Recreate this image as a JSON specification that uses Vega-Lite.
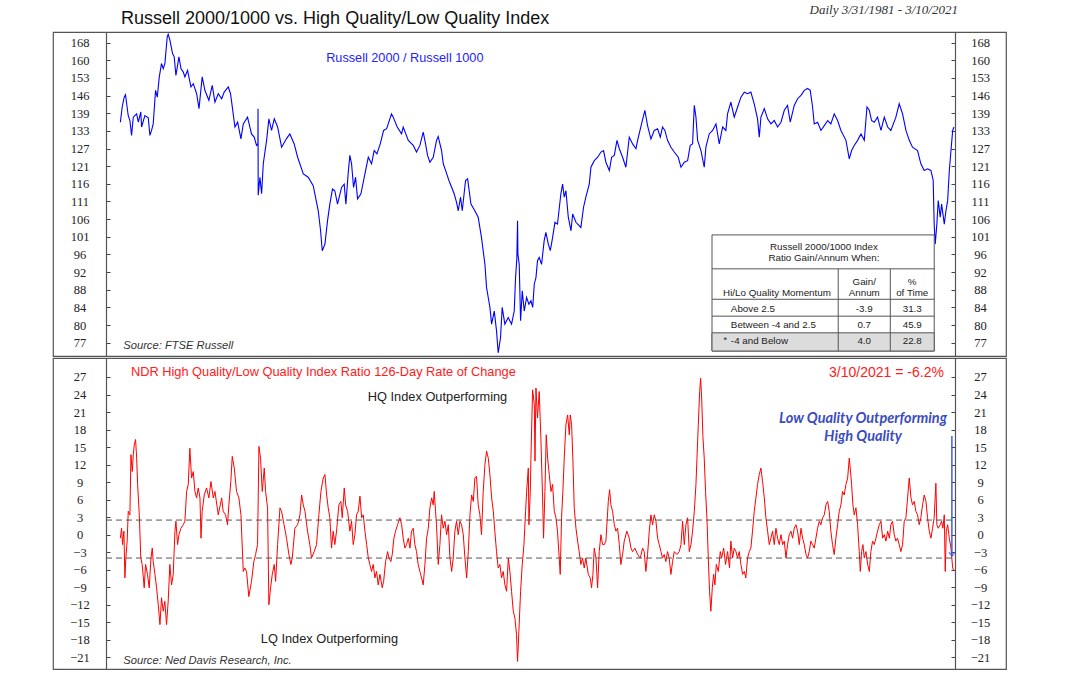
{
"$schema":"https://vega.github.io/schema/vega-lite/v6.json",
"padding":{"left":52,"top":2,"right":0,"bottom":0},
"spacing":0,
"background":"white",
"config":{"font":"Liberation Sans","view":{"stroke":"#555","strokeWidth":1.2},"axis":{"grid":false,"labelFont":"Liberation Serif","labelFontSize":12.5,"labelColor":"#222","tickColor":"#444","domainColor":"#555","domainWidth":1.2}},
"title":{"text":"Daily 3/31/1981 - 3/10/2021","anchor":"end","frame":"group","offset":-15,"dx":-48,"font":"Liberation Serif","fontStyle":"italic","fontSize":13,"fontWeight":"normal","color":"#333"},
"datasets":{
"r":[
{"d":"1981-03-31","v":136.6},{"d":"1981-05-02","v":142.1},{"d":"1981-06-06","v":145.8},{"d":"1981-06-29","v":146.7},{"d":"1981-08-15","v":139.0},{"d":"1981-09-14","v":137.2},{"d":"1981-10-13","v":132.0},{"d":"1981-11-12","v":138.4},{"d":"1982-01-10","v":139.6},{"d":"1982-02-08","v":136.6},{"d":"1982-03-24","v":140.3},{"d":"1982-04-06","v":134.9},{"d":"1982-06-03","v":139.0},{"d":"1982-08-01","v":138.2},{"d":"1982-08-30","v":132.0},{"d":"1982-09-28","v":133.7},{"d":"1982-10-27","v":136.0},{"d":"1982-12-07","v":148.4},{"d":"1983-01-06","v":145.8},{"d":"1983-02-10","v":153.7},{"d":"1983-03-21","v":159.1},{"d":"1983-04-20","v":157.0},{"d":"1983-05-19","v":159.1},{"d":"1983-06-29","v":170.5},{"d":"1983-07-16","v":171.7},{"d":"1983-08-15","v":169.1},{"d":"1983-09-30","v":163.3},{"d":"1983-10-29","v":161.9},{"d":"1983-11-28","v":154.3},{"d":"1984-01-20","v":161.9},{"d":"1984-02-24","v":157.0},{"d":"1984-04-05","v":155.6},{"d":"1984-05-03","v":153.7},{"d":"1984-06-19","v":156.3},{"d":"1984-08-17","v":149.7},{"d":"1984-09-27","v":151.0},{"d":"1984-11-25","v":147.1},{"d":"1985-01-05","v":141.5},{"d":"1985-03-02","v":153.7},{"d":"1985-04-18","v":148.4},{"d":"1985-06-27","v":144.6},{"d":"1985-08-25","v":150.3},{"d":"1985-10-11","v":143.9},{"d":"1985-12-08","v":147.1},{"d":"1986-02-06","v":145.2},{"d":"1986-03-22","v":147.7},{"d":"1986-06-01","v":149.7},{"d":"1986-07-11","v":147.1},{"d":"1986-09-26","v":134.9},{"d":"1986-11-12","v":136.6},{"d":"1987-01-09","v":130.8},{"d":"1987-02-19","v":136.0},{"d":"1987-05-04","v":138.4},{"d":"1987-07-13","v":132.5},{"d":"1987-08-29","v":131.4},{"d":"1987-10-09","v":128.6},{"d":"1987-11-02","v":129.1},{"d":"1987-11-04","v":141.5},{"d":"1987-11-07","v":113.0},{"d":"1987-12-07","v":118.4},{"d":"1988-01-06","v":113.4},{"d":"1988-02-04","v":122.6},{"d":"1988-04-02","v":130.3},{"d":"1988-05-12","v":137.8},{"d":"1988-06-28","v":133.7},{"d":"1988-08-14","v":137.8},{"d":"1988-10-12","v":134.9},{"d":"1988-12-21","v":128.0},{"d":"1989-03-17","v":130.9},{"d":"1989-05-14","v":132.5},{"d":"1989-07-29","v":129.1},{"d":"1989-09-27","v":124.7},{"d":"1990-01-05","v":119.4},{"d":"1990-03-31","v":118.4},{"d":"1990-06-27","v":115.8},{"d":"1990-09-23","v":108.5},{"d":"1990-11-03","v":103.0},{"d":"1990-12-02","v":97.8},{"d":"1990-12-25","v":98.6},{"d":"1991-01-18","v":99.5},{"d":"1991-03-04","v":105.7},{"d":"1991-04-14","v":110.4},{"d":"1991-05-30","v":114.8},{"d":"1991-07-10","v":114.3},{"d":"1991-08-26","v":110.4},{"d":"1991-11-05","v":115.3},{"d":"1991-12-21","v":116.3},{"d":"1992-01-20","v":110.4},{"d":"1992-02-28","v":119.4},{"d":"1992-03-29","v":125.3},{"d":"1992-04-28","v":122.6},{"d":"1992-06-02","v":115.3},{"d":"1992-07-07","v":118.4},{"d":"1992-08-11","v":111.9},{"d":"1992-10-09","v":113.4},{"d":"1992-12-30","v":120.5},{"d":"1993-02-15","v":124.7},{"d":"1993-04-13","v":122.6},{"d":"1993-05-29","v":126.9},{"d":"1993-07-15","v":125.8},{"d":"1993-09-12","v":129.1},{"d":"1993-11-10","v":133.7},{"d":"1994-01-02","v":134.3},{"d":"1994-03-28","v":139.6},{"d":"1994-04-27","v":138.4},{"d":"1994-07-06","v":134.9},{"d":"1994-09-20","v":132.5},{"d":"1994-10-19","v":134.9},{"d":"1995-01-16","v":130.3},{"d":"1995-04-12","v":128.6},{"d":"1995-06-09","v":126.4},{"d":"1995-08-07","v":128.6},{"d":"1995-10-04","v":133.1},{"d":"1995-11-14","v":129.1},{"d":"1995-12-19","v":125.3},{"d":"1996-01-29","v":123.1},{"d":"1996-03-27","v":124.7},{"d":"1996-05-24","v":130.3},{"d":"1996-06-22","v":131.6},{"d":"1996-08-20","v":126.9},{"d":"1996-09-19","v":122.6},{"d":"1996-10-29","v":120.5},{"d":"1996-12-27","v":117.4},{"d":"1997-03-29","v":113.4},{"d":"1997-05-09","v":110.9},{"d":"1997-06-08","v":108.5},{"d":"1997-07-18","v":112.4},{"d":"1997-08-17","v":108.5},{"d":"1997-10-14","v":117.4},{"d":"1997-11-19","v":117.9},{"d":"1998-01-16","v":110.4},{"d":"1998-03-25","v":108.5},{"d":"1998-05-23","v":106.7},{"d":"1998-07-20","v":101.2},{"d":"1998-09-18","v":94.4},{"d":"1998-10-16","v":88.9},{"d":"1998-11-15","v":86.6},{"d":"1998-12-14","v":84.4},{"d":"1999-01-13","v":80.8},{"d":"1999-02-28","v":83.6},{"d":"1999-04-09","v":79.4},{"d":"1999-05-08","v":75.0},{"d":"1999-06-18","v":78.0},{"d":"1999-07-17","v":84.4},{"d":"1999-09-02","v":80.8},{"d":"1999-10-30","v":82.2},{"d":"1999-12-28","v":80.8},{"d":"2000-02-13","v":83.6},{"d":"2000-03-07","v":91.2},{"d":"2000-03-30","v":96.0},{"d":"2000-04-11","v":105.7},{"d":"2000-04-17","v":97.0},{"d":"2000-05-10","v":94.4},{"d":"2000-06-03","v":81.5},{"d":"2000-07-02","v":88.1},{"d":"2000-08-06","v":83.6},{"d":"2000-09-16","v":86.6},{"d":"2000-10-27","v":85.1},{"d":"2000-12-01","v":85.9},{"d":"2001-01-01","v":84.4},{"d":"2001-01-29","v":89.7},{"d":"2001-02-27","v":91.2},{"d":"2001-03-26","v":95.3},{"d":"2001-04-25","v":96.1},{"d":"2001-06-05","v":94.4},{"d":"2001-07-21","v":100.4},{"d":"2001-08-20","v":102.6},{"d":"2001-10-01","v":99.5},{"d":"2001-11-05","v":97.8},{"d":"2001-12-15","v":101.2},{"d":"2002-01-25","v":105.3},{"d":"2002-03-11","v":104.8},{"d":"2002-05-09","v":113.4},{"d":"2002-06-08","v":116.3},{"d":"2002-07-07","v":112.4},{"d":"2002-08-05","v":114.3},{"d":"2002-09-16","v":106.7},{"d":"2002-11-02","v":103.0},{"d":"2002-12-01","v":107.6},{"d":"2003-01-28","v":105.3},{"d":"2003-04-24","v":103.9},{"d":"2003-06-10","v":109.5},{"d":"2003-07-20","v":112.4},{"d":"2003-09-18","v":116.3},{"d":"2003-10-17","v":121.5},{"d":"2003-12-14","v":123.6},{"d":"2004-02-12","v":124.7},{"d":"2004-04-09","v":126.4},{"d":"2004-05-25","v":126.9},{"d":"2004-07-05","v":123.1},{"d":"2004-09-03","v":120.5},{"d":"2004-10-13","v":124.7},{"d":"2004-11-29","v":125.3},{"d":"2005-01-15","v":130.3},{"d":"2005-02-25","v":127.5},{"d":"2005-04-23","v":124.7},{"d":"2005-06-20","v":121.5},{"d":"2005-08-18","v":131.4},{"d":"2005-10-15","v":129.1},{"d":"2005-12-13","v":127.5},{"d":"2006-01-11","v":130.3},{"d":"2006-03-21","v":136.0},{"d":"2006-05-18","v":140.9},{"d":"2006-07-04","v":135.4},{"d":"2006-09-01","v":130.8},{"d":"2006-10-29","v":133.7},{"d":"2006-12-27","v":134.3},{"d":"2007-02-12","v":131.4},{"d":"2007-03-23","v":134.9},{"d":"2007-05-03","v":133.7},{"d":"2007-06-19","v":130.3},{"d":"2007-08-17","v":128.0},{"d":"2007-10-14","v":126.4},{"d":"2007-12-23","v":124.7},{"d":"2008-02-09","v":121.5},{"d":"2008-04-07","v":123.1},{"d":"2008-06-04","v":123.6},{"d":"2008-07-20","v":128.6},{"d":"2008-08-30","v":129.1},{"d":"2008-09-29","v":142.7},{"d":"2008-10-28","v":138.4},{"d":"2008-11-26","v":130.3},{"d":"2009-01-24","v":126.9},{"d":"2009-03-22","v":121.5},{"d":"2009-04-20","v":128.0},{"d":"2009-06-17","v":132.5},{"d":"2009-08-15","v":133.7},{"d":"2009-10-13","v":136.0},{"d":"2009-12-10","v":129.1},{"d":"2010-02-07","v":134.9},{"d":"2010-04-05","v":133.7},{"d":"2010-05-04","v":139.6},{"d":"2010-07-01","v":143.9},{"d":"2010-08-29","v":138.4},{"d":"2010-10-27","v":142.1},{"d":"2010-12-24","v":145.8},{"d":"2011-02-21","v":147.7},{"d":"2011-04-19","v":147.1},{"d":"2011-06-16","v":147.7},{"d":"2011-08-14","v":143.3},{"d":"2011-10-11","v":137.8},{"d":"2011-11-10","v":131.4},{"d":"2011-12-09","v":138.4},{"d":"2012-02-06","v":141.5},{"d":"2012-04-04","v":137.8},{"d":"2012-06-01","v":136.0},{"d":"2012-07-29","v":137.2},{"d":"2012-09-26","v":134.9},{"d":"2012-11-24","v":136.6},{"d":"2013-01-21","v":140.9},{"d":"2013-03-19","v":142.7},{"d":"2013-05-05","v":136.6},{"d":"2013-07-14","v":142.7},{"d":"2013-09-11","v":145.2},{"d":"2013-11-09","v":146.5},{"d":"2014-01-06","v":148.4},{"d":"2014-03-04","v":149.1},{"d":"2014-04-20","v":148.4},{"d":"2014-05-31","v":142.1},{"d":"2014-06-29","v":136.0},{"d":"2014-08-27","v":136.6},{"d":"2014-10-24","v":133.7},{"d":"2014-12-22","v":135.4},{"d":"2015-02-19","v":137.2},{"d":"2015-04-16","v":136.0},{"d":"2015-06-14","v":139.6},{"d":"2015-08-12","v":137.2},{"d":"2015-10-09","v":133.7},{"d":"2016-01-05","v":130.3},{"d":"2016-03-03","v":124.2},{"d":"2016-04-13","v":126.9},{"d":"2016-05-29","v":128.6},{"d":"2016-07-27","v":130.3},{"d":"2016-09-24","v":132.5},{"d":"2016-11-21","v":130.3},{"d":"2017-01-07","v":142.1},{"d":"2017-02-17","v":140.9},{"d":"2017-03-28","v":137.2},{"d":"2017-05-14","v":136.6},{"d":"2017-07-11","v":138.4},{"d":"2017-09-09","v":133.7},{"d":"2017-11-06","v":138.4},{"d":"2018-01-04","v":134.9},{"d":"2018-03-01","v":133.7},{"d":"2018-05-28","v":138.4},{"d":"2018-07-25","v":143.3},{"d":"2018-09-22","v":139.6},{"d":"2018-11-20","v":133.7},{"d":"2019-01-17","v":130.3},{"d":"2019-03-15","v":128.0},{"d":"2019-06-11","v":126.9},{"d":"2019-08-08","v":122.6},{"d":"2019-10-06","v":120.5},{"d":"2019-12-03","v":121.0},{"d":"2020-01-31","v":120.5},{"d":"2020-03-11","v":117.4},{"d":"2020-03-28","v":104.8},{"d":"2020-04-15","v":99.5},{"d":"2020-05-14","v":104.8},{"d":"2020-06-07","v":111.4},{"d":"2020-07-12","v":106.7},{"d":"2020-08-05","v":110.4},{"d":"2020-09-21","v":104.8},{"d":"2020-10-20","v":108.5},{"d":"2020-11-19","v":111.4},{"d":"2020-12-18","v":120.5},{"d":"2021-01-16","v":126.9},{"d":"2021-02-15","v":133.7},{"d":"2021-03-10","v":134.9}
],
"q":[
{"d":"1981-03-31","v":-0.6},{"d":"1981-04-21","v":1.1},{"d":"1981-05-08","v":-1.7},{"d":"1981-06-01","v":0.6},{"d":"1981-06-18","v":-7.4},{"d":"1981-07-05","v":-4.0},{"d":"1981-07-28","v":-1.1},{"d":"1981-08-16","v":4.0},{"d":"1981-09-14","v":3.4},{"d":"1981-10-02","v":13.7},{"d":"1981-10-25","v":10.8},{"d":"1981-11-12","v":13.7},{"d":"1981-11-29","v":15.4},{"d":"1981-12-22","v":16.3},{"d":"1982-01-10","v":13.1},{"d":"1982-01-27","v":8.6},{"d":"1982-02-25","v":3.4},{"d":"1982-03-24","v":-4.0},{"d":"1982-04-17","v":-5.1},{"d":"1982-05-22","v":-9.1},{"d":"1982-06-15","v":-5.1},{"d":"1982-07-19","v":-6.8},{"d":"1982-08-18","v":-9.1},{"d":"1982-09-17","v":-4.0},{"d":"1982-10-10","v":-2.3},{"d":"1982-10-27","v":-4.6},{"d":"1982-11-26","v":-6.8},{"d":"1982-12-25","v":-9.1},{"d":"1983-01-23","v":-12.0},{"d":"1983-02-22","v":-15.4},{"d":"1983-03-21","v":-10.8},{"d":"1983-04-20","v":-13.1},{"d":"1983-05-18","v":-11.4},{"d":"1983-06-17","v":-15.4},{"d":"1983-07-16","v":-11.4},{"d":"1983-08-14","v":-5.1},{"d":"1983-09-13","v":-8.6},{"d":"1983-10-12","v":-6.8},{"d":"1983-11-11","v":0.6},{"d":"1983-11-28","v":2.3},{"d":"1983-12-27","v":-1.7},{"d":"1984-01-20","v":0.0},{"d":"1984-02-24","v":1.1},{"d":"1984-04-04","v":1.7},{"d":"1984-05-03","v":2.3},{"d":"1984-06-02","v":7.4},{"d":"1984-07-01","v":8.6},{"d":"1984-07-29","v":14.8},{"d":"1984-08-28","v":9.7},{"d":"1984-09-27","v":10.8},{"d":"1984-10-26","v":7.4},{"d":"1984-11-24","v":6.3},{"d":"1984-12-23","v":8.0},{"d":"1985-01-22","v":6.3},{"d":"1985-02-09","v":-0.6},{"d":"1985-03-02","v":4.0},{"d":"1985-04-07","v":6.8},{"d":"1985-05-17","v":8.0},{"d":"1985-06-27","v":6.3},{"d":"1985-08-02","v":9.1},{"d":"1985-09-12","v":6.3},{"d":"1985-10-11","v":7.4},{"d":"1985-12-08","v":3.4},{"d":"1986-02-06","v":6.3},{"d":"1986-03-04","v":4.0},{"d":"1986-04-15","v":3.4},{"d":"1986-05-19","v":1.7},{"d":"1986-06-12","v":5.1},{"d":"1986-07-16","v":9.1},{"d":"1986-08-10","v":13.4},{"d":"1986-09-14","v":11.4},{"d":"1986-10-24","v":7.4},{"d":"1986-12-04","v":6.3},{"d":"1987-01-09","v":3.4},{"d":"1987-02-19","v":-6.3},{"d":"1987-03-18","v":-5.7},{"d":"1987-04-17","v":-6.3},{"d":"1987-05-27","v":-10.6},{"d":"1987-07-13","v":-8.0},{"d":"1987-08-23","v":-4.6},{"d":"1987-09-22","v":-3.4},{"d":"1987-10-27","v":-1.7},{"d":"1987-11-20","v":15.1},{"d":"1987-12-18","v":13.1},{"d":"1988-01-17","v":7.4},{"d":"1988-02-21","v":11.4},{"d":"1988-03-15","v":7.4},{"d":"1988-04-19","v":4.6},{"d":"1988-05-12","v":-12.0},{"d":"1988-06-11","v":-9.1},{"d":"1988-07-10","v":-6.8},{"d":"1988-08-14","v":-5.1},{"d":"1988-09-07","v":-8.0},{"d":"1988-10-12","v":-1.7},{"d":"1988-11-22","v":4.6},{"d":"1988-12-21","v":4.0},{"d":"1989-02-01","v":1.7},{"d":"1989-03-17","v":-0.6},{"d":"1989-04-27","v":-3.4},{"d":"1989-06-01","v":-5.1},{"d":"1989-06-25","v":-4.0},{"d":"1989-08-10","v":1.1},{"d":"1989-09-27","v":1.7},{"d":"1989-11-07","v":3.4},{"d":"1989-12-06","v":6.8},{"d":"1990-01-04","v":5.1},{"d":"1990-02-03","v":4.0},{"d":"1990-03-19","v":0.6},{"d":"1990-04-29","v":-1.7},{"d":"1990-05-28","v":-4.0},{"d":"1990-07-14","v":-2.9},{"d":"1990-08-24","v":-1.7},{"d":"1990-10-04","v":3.4},{"d":"1990-11-09","v":7.4},{"d":"1990-12-19","v":9.7},{"d":"1991-01-18","v":10.3},{"d":"1991-02-17","v":6.8},{"d":"1991-03-16","v":4.6},{"d":"1991-04-14","v":2.9},{"d":"1991-05-13","v":-2.3},{"d":"1991-06-12","v":0.6},{"d":"1991-07-10","v":-1.7},{"d":"1991-08-09","v":0.6},{"d":"1991-09-19","v":5.1},{"d":"1991-10-24","v":5.7},{"d":"1991-11-17","v":2.9},{"d":"1991-12-22","v":8.0},{"d":"1992-01-15","v":5.1},{"d":"1992-02-19","v":4.0},{"d":"1992-03-29","v":0.6},{"d":"1992-04-28","v":2.3},{"d":"1992-05-27","v":-1.7},{"d":"1992-06-25","v":0.0},{"d":"1992-07-24","v":3.4},{"d":"1992-08-23","v":4.0},{"d":"1992-09-22","v":6.6},{"d":"1992-10-21","v":2.9},{"d":"1992-11-19","v":3.4},{"d":"1992-12-18","v":0.6},{"d":"1993-01-17","v":-1.7},{"d":"1993-02-15","v":-4.0},{"d":"1993-03-14","v":-5.1},{"d":"1993-04-13","v":-6.3},{"d":"1993-05-12","v":-5.1},{"d":"1993-06-10","v":-7.4},{"d":"1993-07-09","v":-6.3},{"d":"1993-08-08","v":-8.6},{"d":"1993-09-07","v":-6.8},{"d":"1993-10-17","v":-9.1},{"d":"1993-11-10","v":-8.0},{"d":"1993-12-15","v":-4.6},{"d":"1994-01-19","v":-2.9},{"d":"1994-02-12","v":-4.0},{"d":"1994-03-17","v":-4.6},{"d":"1994-04-10","v":-3.4},{"d":"1994-05-09","v":-0.6},{"d":"1994-06-07","v":0.6},{"d":"1994-07-12","v":1.7},{"d":"1994-08-22","v":2.9},{"d":"1994-09-21","v":1.7},{"d":"1994-10-19","v":-0.6},{"d":"1994-11-18","v":-2.3},{"d":"1994-12-17","v":-1.7},{"d":"1995-01-16","v":-0.6},{"d":"1995-02-14","v":-2.3},{"d":"1995-03-13","v":0.6},{"d":"1995-04-12","v":1.1},{"d":"1995-05-11","v":-1.7},{"d":"1995-06-09","v":-2.9},{"d":"1995-07-08","v":-5.1},{"d":"1995-08-07","v":-6.3},{"d":"1995-09-05","v":-7.4},{"d":"1995-10-04","v":-8.6},{"d":"1995-11-03","v":-5.1},{"d":"1995-12-02","v":-0.6},{"d":"1996-01-01","v":1.1},{"d":"1996-01-29","v":4.6},{"d":"1996-02-28","v":6.3},{"d":"1996-03-27","v":5.1},{"d":"1996-04-14","v":7.4},{"d":"1996-05-07","v":4.0},{"d":"1996-05-24","v":1.7},{"d":"1996-06-23","v":-5.1},{"d":"1996-07-22","v":-1.7},{"d":"1996-08-20","v":3.4},{"d":"1996-09-19","v":1.1},{"d":"1996-10-18","v":2.3},{"d":"1996-11-17","v":0.0},{"d":"1996-12-16","v":1.7},{"d":"1997-01-14","v":-4.0},{"d":"1997-02-13","v":-6.3},{"d":"1997-03-12","v":-4.0},{"d":"1997-04-10","v":0.6},{"d":"1997-05-09","v":2.3},{"d":"1997-06-08","v":0.0},{"d":"1997-07-07","v":2.3},{"d":"1997-08-05","v":1.7},{"d":"1997-09-04","v":0.0},{"d":"1997-10-03","v":-4.0},{"d":"1997-11-02","v":-7.4},{"d":"1997-12-01","v":-2.9},{"d":"1997-12-30","v":3.4},{"d":"1998-01-28","v":6.8},{"d":"1998-02-27","v":5.7},{"d":"1998-03-26","v":9.7},{"d":"1998-04-24","v":10.0},{"d":"1998-05-23","v":5.1},{"d":"1998-06-22","v":3.4},{"d":"1998-07-20","v":0.0},{"d":"1998-08-19","v":7.4},{"d":"1998-09-18","v":12.0},{"d":"1998-10-17","v":14.3},{"d":"1998-11-16","v":13.1},{"d":"1998-12-14","v":10.3},{"d":"1999-01-13","v":6.3},{"d":"1999-02-12","v":4.0},{"d":"1999-03-10","v":0.6},{"d":"1999-04-09","v":-2.9},{"d":"1999-05-08","v":-5.7},{"d":"1999-06-07","v":-5.1},{"d":"1999-07-05","v":-7.4},{"d":"1999-08-04","v":-6.3},{"d":"1999-09-03","v":-8.6},{"d":"1999-10-02","v":-9.7},{"d":"1999-11-01","v":-4.0},{"d":"1999-11-29","v":-6.3},{"d":"1999-12-28","v":-9.7},{"d":"2000-01-27","v":-13.1},{"d":"2000-02-25","v":-14.3},{"d":"2000-03-24","v":-17.1},{"d":"2000-04-11","v":-21.7},{"d":"2000-05-04","v":-16.6},{"d":"2000-06-03","v":-9.7},{"d":"2000-07-02","v":-5.1},{"d":"2000-08-01","v":-1.7},{"d":"2000-08-29","v":4.0},{"d":"2000-09-17","v":7.4},{"d":"2000-10-16","v":11.4},{"d":"2000-10-27","v":1.7},{"d":"2000-11-20","v":7.4},{"d":"2000-12-01","v":13.1},{"d":"2000-12-30","v":24.8},{"d":"2001-01-29","v":22.3},{"d":"2001-02-10","v":12.6},{"d":"2001-02-27","v":25.1},{"d":"2001-03-26","v":20.0},{"d":"2001-04-25","v":24.5},{"d":"2001-05-24","v":16.6},{"d":"2001-06-23","v":6.3},{"d":"2001-07-10","v":-0.6},{"d":"2001-08-03","v":7.4},{"d":"2001-08-26","v":17.1},{"d":"2001-09-19","v":13.1},{"d":"2001-10-18","v":10.3},{"d":"2001-11-17","v":7.4},{"d":"2001-12-15","v":8.6},{"d":"2002-01-14","v":4.0},{"d":"2002-02-12","v":2.9},{"d":"2002-03-11","v":0.6},{"d":"2002-04-10","v":-4.0},{"d":"2002-04-28","v":-6.8},{"d":"2002-05-21","v":2.9},{"d":"2002-06-13","v":7.4},{"d":"2002-07-07","v":13.1},{"d":"2002-08-05","v":18.8},{"d":"2002-09-04","v":20.5},{"d":"2002-10-03","v":17.1},{"d":"2002-10-20","v":20.5},{"d":"2002-11-13","v":18.8},{"d":"2002-12-06","v":12.6},{"d":"2002-12-29","v":4.6},{"d":"2003-01-28","v":1.1},{"d":"2003-02-26","v":-1.1},{"d":"2003-03-25","v":-2.9},{"d":"2003-04-24","v":-5.1},{"d":"2003-05-23","v":-4.0},{"d":"2003-06-22","v":-5.7},{"d":"2003-07-20","v":-4.0},{"d":"2003-09-01","v":-6.8},{"d":"2003-10-05","v":-7.4},{"d":"2003-10-28","v":-9.1},{"d":"2003-11-21","v":-6.8},{"d":"2003-12-14","v":-2.3},{"d":"2004-01-13","v":-4.0},{"d":"2004-02-11","v":-9.1},{"d":"2004-03-10","v":-2.9},{"d":"2004-04-09","v":0.0},{"d":"2004-05-08","v":-1.7},{"d":"2004-06-07","v":-1.7},{"d":"2004-07-05","v":-1.1},{"d":"2004-08-16","v":5.7},{"d":"2004-09-08","v":7.7},{"d":"2004-10-01","v":5.1},{"d":"2004-10-30","v":4.0},{"d":"2004-11-29","v":1.7},{"d":"2004-12-28","v":0.6},{"d":"2005-01-26","v":1.1},{"d":"2005-02-25","v":-1.7},{"d":"2005-03-24","v":-5.1},{"d":"2005-04-23","v":-3.4},{"d":"2005-05-22","v":-1.1},{"d":"2005-07-07","v":0.6},{"d":"2005-08-18","v":-0.6},{"d":"2005-09-16","v":-2.3},{"d":"2005-10-15","v":-2.9},{"d":"2005-11-25","v":-2.3},{"d":"2006-01-11","v":-3.4},{"d":"2006-02-27","v":-4.0},{"d":"2006-04-08","v":-2.3},{"d":"2006-05-06","v":-2.9},{"d":"2006-06-05","v":-6.3},{"d":"2006-07-04","v":-3.4},{"d":"2006-08-03","v":0.6},{"d":"2006-09-01","v":3.4},{"d":"2006-09-30","v":1.7},{"d":"2006-10-29","v":3.4},{"d":"2006-11-28","v":2.3},{"d":"2006-12-27","v":-0.6},{"d":"2007-01-25","v":-1.7},{"d":"2007-02-24","v":-2.9},{"d":"2007-03-23","v":-4.0},{"d":"2007-04-21","v":-3.4},{"d":"2007-05-20","v":-4.6},{"d":"2007-06-19","v":-2.9},{"d":"2007-07-18","v":-4.0},{"d":"2007-08-17","v":-6.8},{"d":"2007-09-15","v":-4.6},{"d":"2007-10-14","v":-2.9},{"d":"2007-11-30","v":-3.4},{"d":"2008-01-10","v":-2.9},{"d":"2008-02-09","v":-1.7},{"d":"2008-03-08","v":2.3},{"d":"2008-04-07","v":-1.7},{"d":"2008-05-05","v":1.7},{"d":"2008-06-04","v":2.9},{"d":"2008-07-03","v":-2.9},{"d":"2008-08-01","v":-1.7},{"d":"2008-08-30","v":0.6},{"d":"2008-09-29","v":4.0},{"d":"2008-10-28","v":8.6},{"d":"2008-11-15","v":13.1},{"d":"2008-12-08","v":18.8},{"d":"2009-01-01","v":24.5},{"d":"2009-01-18","v":26.8},{"d":"2009-02-05","v":23.4},{"d":"2009-02-28","v":16.6},{"d":"2009-03-22","v":13.1},{"d":"2009-04-14","v":7.4},{"d":"2009-05-08","v":2.9},{"d":"2009-06-01","v":-4.0},{"d":"2009-06-23","v":-9.7},{"d":"2009-07-16","v":-13.1},{"d":"2009-08-10","v":-9.1},{"d":"2009-09-02","v":-6.8},{"d":"2009-09-25","v":-8.6},{"d":"2009-10-19","v":-5.1},{"d":"2009-11-23","v":-6.3},{"d":"2009-12-28","v":-2.9},{"d":"2010-01-20","v":-4.0},{"d":"2010-02-25","v":-2.3},{"d":"2010-03-30","v":-5.1},{"d":"2010-05-04","v":-2.9},{"d":"2010-06-08","v":-5.7},{"d":"2010-07-01","v":-1.1},{"d":"2010-07-31","v":-4.0},{"d":"2010-08-29","v":-2.3},{"d":"2010-09-28","v":-2.9},{"d":"2010-10-27","v":-4.0},{"d":"2010-11-25","v":-2.9},{"d":"2010-12-24","v":-5.1},{"d":"2011-01-23","v":-6.8},{"d":"2011-02-21","v":-6.3},{"d":"2011-03-20","v":-7.4},{"d":"2011-04-19","v":-4.0},{"d":"2011-05-18","v":-2.9},{"d":"2011-06-16","v":-2.3},{"d":"2011-07-15","v":0.6},{"d":"2011-08-14","v":4.0},{"d":"2011-09-13","v":6.3},{"d":"2011-10-11","v":8.6},{"d":"2011-11-10","v":10.3},{"d":"2011-12-09","v":11.4},{"d":"2012-01-07","v":9.1},{"d":"2012-02-06","v":6.3},{"d":"2012-03-05","v":2.9},{"d":"2012-04-04","v":0.6},{"d":"2012-05-03","v":-1.7},{"d":"2012-06-01","v":-0.6},{"d":"2012-06-30","v":0.6},{"d":"2012-07-29","v":-1.7},{"d":"2012-08-28","v":1.1},{"d":"2012-09-26","v":-0.6},{"d":"2012-10-25","v":-1.7},{"d":"2012-11-24","v":0.0},{"d":"2012-12-23","v":-1.7},{"d":"2013-01-21","v":-1.1},{"d":"2013-02-20","v":-4.0},{"d":"2013-03-19","v":-1.7},{"d":"2013-04-18","v":0.0},{"d":"2013-05-17","v":0.6},{"d":"2013-06-15","v":-0.6},{"d":"2013-07-14","v":1.1},{"d":"2013-08-13","v":1.7},{"d":"2013-09-11","v":0.6},{"d":"2013-10-10","v":-1.7},{"d":"2013-11-09","v":1.1},{"d":"2013-12-08","v":-0.6},{"d":"2014-01-06","v":-1.7},{"d":"2014-02-05","v":-3.4},{"d":"2014-03-04","v":-4.0},{"d":"2014-04-03","v":-2.9},{"d":"2014-05-01","v":-1.1},{"d":"2014-05-30","v":-1.7},{"d":"2014-06-29","v":-2.3},{"d":"2014-07-28","v":-0.6},{"d":"2014-08-27","v":1.1},{"d":"2014-09-25","v":2.3},{"d":"2014-10-24","v":1.7},{"d":"2014-11-23","v":2.9},{"d":"2014-12-22","v":3.4},{"d":"2015-01-20","v":5.1},{"d":"2015-02-19","v":5.7},{"d":"2015-03-18","v":4.0},{"d":"2015-04-16","v":0.6},{"d":"2015-05-15","v":-1.7},{"d":"2015-06-14","v":-3.4},{"d":"2015-07-13","v":-0.6},{"d":"2015-08-12","v":1.7},{"d":"2015-09-10","v":4.0},{"d":"2015-10-09","v":5.1},{"d":"2015-11-07","v":7.4},{"d":"2015-12-06","v":6.8},{"d":"2016-01-05","v":8.6},{"d":"2016-02-04","v":9.7},{"d":"2016-03-03","v":13.1},{"d":"2016-03-20","v":11.4},{"d":"2016-04-13","v":8.6},{"d":"2016-05-06","v":5.1},{"d":"2016-05-29","v":3.4},{"d":"2016-06-28","v":4.6},{"d":"2016-07-27","v":1.7},{"d":"2016-08-25","v":-2.9},{"d":"2016-09-12","v":-6.3},{"d":"2016-10-05","v":-2.9},{"d":"2016-10-28","v":-1.7},{"d":"2016-11-21","v":-4.0},{"d":"2016-12-20","v":-2.9},{"d":"2017-01-19","v":-5.1},{"d":"2017-02-17","v":-6.3},{"d":"2017-03-16","v":-2.9},{"d":"2017-04-15","v":-1.1},{"d":"2017-05-14","v":-1.7},{"d":"2017-06-13","v":-0.6},{"d":"2017-07-11","v":0.6},{"d":"2017-08-10","v":1.7},{"d":"2017-09-09","v":2.3},{"d":"2017-10-08","v":-0.6},{"d":"2017-11-06","v":0.0},{"d":"2017-12-05","v":-1.1},{"d":"2018-01-04","v":0.6},{"d":"2018-02-03","v":-0.6},{"d":"2018-03-01","v":1.7},{"d":"2018-03-30","v":2.3},{"d":"2018-04-29","v":0.0},{"d":"2018-05-28","v":-1.1},{"d":"2018-06-26","v":-0.6},{"d":"2018-07-25","v":-1.7},{"d":"2018-08-24","v":-2.9},{"d":"2018-09-22","v":-1.7},{"d":"2018-10-21","v":2.3},{"d":"2018-11-20","v":2.9},{"d":"2018-12-19","v":6.3},{"d":"2019-01-17","v":9.7},{"d":"2019-02-16","v":6.3},{"d":"2019-03-15","v":5.1},{"d":"2019-04-14","v":5.7},{"d":"2019-05-13","v":4.0},{"d":"2019-06-11","v":3.4},{"d":"2019-07-10","v":1.7},{"d":"2019-08-08","v":2.9},{"d":"2019-09-07","v":5.1},{"d":"2019-10-06","v":6.8},{"d":"2019-11-05","v":5.7},{"d":"2019-12-03","v":2.9},{"d":"2020-01-02","v":0.6},{"d":"2020-01-31","v":-0.6},{"d":"2020-02-29","v":1.1},{"d":"2020-03-28","v":2.9},{"d":"2020-04-27","v":8.8},{"d":"2020-05-14","v":1.7},{"d":"2020-06-07","v":1.1},{"d":"2020-07-12","v":1.7},{"d":"2020-08-05","v":2.3},{"d":"2020-08-28","v":1.1},{"d":"2020-09-21","v":3.4},{"d":"2020-10-08","v":-6.3},{"d":"2020-10-26","v":0.6},{"d":"2020-11-19","v":1.7},{"d":"2020-12-18","v":-0.6},{"d":"2021-01-16","v":-2.3},{"d":"2021-02-15","v":-5.7},{"d":"2021-03-10","v":-6.2}
]
},
"vconcat":[
{"width":953,"height":29,"data":{"values":[{}]},"mark":{"type":"text","opacity":0},"encoding":{"text":{"value":"."}},
 "title":{"text":"Russell 2000/1000 vs. High Quality/Low Quality Index","anchor":"start","frame":"group","offset":-26,"dx":68,"font":"Liberation Sans","fontSize":18,"fontWeight":"normal","color":"#111"}},
{"width":953,"height":324,
 "layer":[
  {"data":{"name":"r"},"mark":{"type":"line","color":"#0000ff","strokeWidth":1.1},
   "encoding":{"x":{"field":"d","type":"temporal","scale":{"domain":[{"year":1978,"month":1,"date":7},{"year":2023,"month":9,"date":6}],"nice":false},"axis":null},
    "y":{"field":"v","type":"quantitative","scale":{"type":"log","domain":[74.38,172.7],"nice":false},
     "axis":{"orient":"left","offset":-53,"values":[77,80.61,84.4,88.36,92.51,96.85,101.4,106.16,111.15,116.37,121.84,127.56,133.55,139.82,146.38,153.25,160.45,168],"labelExpr":"floor(datum.value)","tickSize":-4,"labelAlign":"center","labelPadding":30.5,"labelOverlap":false,"labelFlush":false,"title":null}}}},
  {"data":{"values":[{}]},"mark":{"type":"rect","fill":"white","stroke":"#555","strokeWidth":1},
   "encoding":{"x":{"datum":{"year":2009,"month":8,"date":5},"type":"temporal","axis":null},"x2":{"datum":{"year":2020,"month":3,"date":29}},"y":{"datum":101.9,"type":"quantitative","axis":null},"y2":{"datum":75.35}}},
  {"data":{"values":[{}]},"mark":{"type":"rect","fill":"#dcdcdc","stroke":"#555","strokeWidth":1},
   "encoding":{"x":{"datum":{"year":2009,"month":8,"date":5},"type":"temporal","axis":null},"x2":{"datum":{"year":2020,"month":3,"date":29}},"y":{"datum":79.0,"type":"quantitative","axis":null},"y2":{"datum":75.35}}},
  {"data":{"values":[{}]},"mark":{"type":"rule","color":"#555","strokeWidth":1},
   "encoding":{"x":{"datum":{"year":2009,"month":8,"date":5},"type":"temporal","axis":null},"x2":{"datum":{"year":2020,"month":3,"date":29}},"y":{"datum":93.3,"type":"quantitative","axis":null}}},
  {"data":{"values":[{}]},"mark":{"type":"rule","color":"#555","strokeWidth":1},
   "encoding":{"x":{"datum":{"year":2009,"month":8,"date":5},"type":"temporal","axis":null},"x2":{"datum":{"year":2020,"month":3,"date":29}},"y":{"datum":86.2,"type":"quantitative","axis":null}}},
  {"data":{"values":[{}]},"mark":{"type":"rule","color":"#555","strokeWidth":1},
   "encoding":{"x":{"datum":{"year":2009,"month":8,"date":5},"type":"temporal","axis":null},"x2":{"datum":{"year":2020,"month":3,"date":29}},"y":{"datum":82.5,"type":"quantitative","axis":null}}},
  {"data":{"values":[{}]},"mark":{"type":"rule","color":"#555","strokeWidth":1},
   "encoding":{"x":{"datum":{"year":2015,"month":8,"date":23},"type":"temporal","axis":null},"y":{"datum":93.3,"type":"quantitative","axis":null},"y2":{"datum":75.35}}},
  {"data":{"values":[{}]},"mark":{"type":"rule","color":"#555","strokeWidth":1},
   "encoding":{"x":{"datum":{"year":2018,"month":2,"date":19},"type":"temporal","axis":null},"y":{"datum":93.3,"type":"quantitative","axis":null},"y2":{"datum":75.35}}},
  {"data":{"values":[{}]},"mark":{"type":"text","fontSize":9.8,"lineHeight":11,"align":"center","baseline":"middle","color":"#222"},
   "encoding":{"x":{"datum":{"year":2014,"month":12,"date":16},"type":"temporal","axis":null},"y":{"datum":98.75,"type":"quantitative","axis":null},"text":{"value":["Russell 2000/1000 Index","Ratio Gain/Annum When:"]}}},
  {"data":{"values":[{}]},"mark":{"type":"text","fontSize":9.8,"align":"center","baseline":"middle","color":"#222"},
   "encoding":{"x":{"datum":{"year":2012,"month":9,"date":15},"type":"temporal","axis":null},"y":{"datum":87.7,"type":"quantitative","axis":null},"text":{"value":"Hi/Lo Quality Momentum"}}},
  {"data":{"values":[{}]},"mark":{"type":"text","fontSize":9.8,"lineHeight":11,"align":"center","baseline":"middle","color":"#222"},
   "encoding":{"x":{"datum":{"year":2016,"month":11,"date":20},"type":"temporal","axis":null},"y":{"datum":90.16,"type":"quantitative","axis":null},"text":{"value":["Gain/","Annum"]}}},
  {"data":{"values":[{}]},"mark":{"type":"text","fontSize":9.8,"lineHeight":11,"align":"center","baseline":"middle","color":"#222"},
   "encoding":{"x":{"datum":{"year":2019,"month":3,"date":10},"type":"temporal","axis":null},"y":{"datum":90.16,"type":"quantitative","axis":null},"text":{"value":["%","of Time"]}}},
  {"data":{"values":[{}]},"mark":{"type":"text","fontSize":9.8,"lineHeight":16,"align":"left","baseline":"middle","color":"#222"},
   "encoding":{"x":{"datum":{"year":2010,"month":7,"date":1},"type":"temporal","axis":null},"y":{"datum":84.05,"type":"quantitative","axis":null},"text":{"value":["Above 2.5","Between -4 and 2.5","-4 and Below"]}}},
  {"data":{"values":[{}]},"mark":{"type":"text","fontSize":9,"align":"left","baseline":"middle","color":"#222"},
   "encoding":{"x":{"datum":{"year":2010,"month":2,"date":24},"type":"temporal","axis":null},"y":{"datum":77.6,"type":"quantitative","axis":null},"text":{"value":"*"}}},
  {"data":{"values":[{}]},"mark":{"type":"text","fontSize":9.8,"lineHeight":16,"align":"center","baseline":"middle","color":"#222"},
   "encoding":{"x":{"datum":{"year":2016,"month":11,"date":20},"type":"temporal","axis":null},"y":{"datum":84.05,"type":"quantitative","axis":null},"text":{"value":["-3.9","0.7","4.0"]}}},
  {"data":{"values":[{}]},"mark":{"type":"text","fontSize":9.8,"lineHeight":16,"align":"center","baseline":"middle","color":"#222"},
   "encoding":{"x":{"datum":{"year":2019,"month":3,"date":10},"type":"temporal","axis":null},"y":{"datum":84.05,"type":"quantitative","axis":null},"text":{"value":["31.3","45.9","22.8"]}}},
  {"data":{"values":[{}]},"mark":{"type":"text","fontSize":11.2,"fontStyle":"italic","align":"left","baseline":"middle","color":"#333"},
   "encoding":{"x":{"datum":{"year":1981,"month":5,"date":20},"type":"temporal","axis":null},"y":{"datum":76.3,"type":"quantitative","axis":null},"text":{"value":"Source: FTSE Russell"}}},
  {"data":{"values":[{}]},"mark":{"type":"text","fontSize":12.7,"align":"center","baseline":"middle","color":"#2222ff"},
   "encoding":{"x":{"datum":{"year":1994,"month":11,"date":16},"type":"temporal","axis":null},
    "y":{"datum":161.5,"type":"quantitative","axis":{"orient":"right","offset":-51,"values":[77,80.61,84.4,88.36,92.51,96.85,101.4,106.16,111.15,116.37,121.84,127.56,133.55,139.82,146.38,153.25,160.45,168],"labelExpr":"floor(datum.value)","tickSize":-4,"labelAlign":"center","labelPadding":29,"labelOverlap":false,"labelFlush":false,"title":null}},
    "text":{"value":"Russell 2000 / Russell 1000"}}}
 ],
 "resolve":{"axis":{"y":"independent"}}},
{"width":953,"height":311,
 "layer":[
  {"data":{"name":"q"},"mark":{"type":"line","color":"#ff0000","strokeWidth":1},
   "encoding":{"x":{"field":"d","type":"temporal","scale":{"domain":[{"year":1978,"month":1,"date":7},{"year":2023,"month":9,"date":6}],"nice":false},
     "axis":{"orient":"bottom","labels":false,"domain":false,"title":null,"tickCount":{"interval":"month","step":3},"tickSize":{"condition":{"test":"month(datum.value) === 0","value":5},"value":2.5},"tickOpacity":{"condition":{"test":"datum.value < datetime(1981,0,1) || datum.value > datetime(2020,6,2)","value":0},"value":1}}},
    "y":{"field":"v","type":"quantitative","scale":{"domain":[-23.0,30.25],"nice":false},
     "axis":{"orient":"left","offset":-53,"values":[-21,-18,-15,-12,-9,-6,-3,0,3,6,9,12,15,18,21,24,27],"tickSize":-4,"labelAlign":"center","labelPadding":30.5,"labelOverlap":false,"labelFlush":false,"title":null}}}},
  {"data":{"values":[{}]},"mark":{"type":"rule","color":"#555","strokeWidth":1,"strokeDash":[6,4]},
   "encoding":{"x":{"datum":{"year":1980,"month":7,"date":22},"type":"temporal","axis":null},"x2":{"datum":{"year":2021,"month":3,"date":27}},"y":{"datum":2.5,"type":"quantitative","axis":null}}},
  {"data":{"values":[{}]},"mark":{"type":"rule","color":"#555","strokeWidth":1,"strokeDash":[6,4]},
   "encoding":{"x":{"datum":{"year":1980,"month":7,"date":22},"type":"temporal","axis":null},"x2":{"datum":{"year":2021,"month":3,"date":27}},"y":{"datum":-4,"type":"quantitative","axis":null}}},
  {"data":{"values":[{}]},"mark":{"type":"text","fontSize":12.8,"align":"left","baseline":"middle","color":"#ff2020"},
   "encoding":{"x":{"datum":{"year":1981,"month":10,"date":2},"type":"temporal","axis":null},"y":{"datum":27.86,"type":"quantitative","axis":null},"text":{"value":"NDR High Quality/Low Quality Index Ratio 126-Day Rate of Change"}}},
  {"data":{"values":[{}]},"mark":{"type":"text","fontSize":12.8,"align":"center","baseline":"middle","color":"#222"},
   "encoding":{"x":{"datum":{"year":1996,"month":6,"date":10},"type":"temporal","axis":null},"y":{"datum":23.58,"type":"quantitative","axis":null},"text":{"value":"HQ Index Outperforming"}}},
  {"data":{"values":[{}]},"mark":{"type":"text","fontSize":12.8,"align":"center","baseline":"middle","color":"#222"},
   "encoding":{"x":{"datum":{"year":1991,"month":4,"date":7},"type":"temporal","axis":null},"y":{"datum":-17.81,"type":"quantitative","axis":null},"text":{"value":"LQ Index Outperforming"}}},
  {"data":{"values":[{}]},"mark":{"type":"text","fontSize":11.2,"fontStyle":"italic","align":"left","baseline":"middle","color":"#333"},
   "encoding":{"x":{"datum":{"year":1981,"month":5,"date":20},"type":"temporal","axis":null},"y":{"datum":-21.68,"type":"quantitative","axis":null},"text":{"value":"Source: Ned Davis Research, Inc."}}},
  {"data":{"values":[{}]},"mark":{"type":"text","font":"Lato","fontSize":14.5,"fontStyle":"italic","fontWeight":"bold","lineHeight":18.6,"align":"center","baseline":"middle","color":"#3b4cc0"},
   "encoding":{"x":{"datum":{"year":2016,"month":10,"date":30},"type":"temporal","axis":null},"y":{"datum":19.86,"type":"quantitative","axis":null},"text":{"value":["Low Quality Outperforming","High Quality"]}}},
  {"data":{"values":[{}]},"mark":{"type":"rule","color":"#3355dd","strokeWidth":1.4},
   "encoding":{"x":{"datum":{"year":2021,"month":2,"date":1},"type":"temporal","axis":null},"y":{"datum":16.9,"type":"quantitative","axis":null},"y2":{"datum":-3.65}}},
  {"data":{"values":[{}]},"mark":{"type":"point","shape":"M -0.7 -0.9 L 0 0 L 0.7 -0.9","filled":false,"stroke":"#3355dd","strokeWidth":1.4,"size":70},
   "encoding":{"x":{"datum":{"year":2021,"month":2,"date":1},"type":"temporal","axis":null},"y":{"datum":-3.65,"type":"quantitative","axis":null}}},
  {"data":{"values":[{}]},"mark":{"type":"text","fontSize":14,"align":"center","baseline":"middle","color":"#ff2020"},
   "encoding":{"x":{"datum":{"year":2017,"month":12,"date":14},"type":"temporal","axis":null},
    "y":{"datum":27.68,"type":"quantitative","axis":{"orient":"right","offset":-51,"values":[-21,-18,-15,-12,-9,-6,-3,0,3,6,9,12,15,18,21,24,27],"tickSize":-4,"labelAlign":"center","labelPadding":29,"labelOverlap":false,"labelFlush":false,"title":null}},
    "text":{"value":"3/10/2021 = -6.2%"}}}
 ],
 "resolve":{"axis":{"y":"independent"}}}
]
}
